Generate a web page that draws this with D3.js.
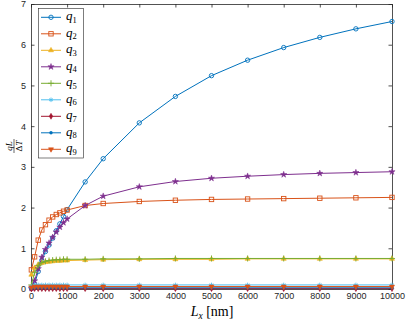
<!DOCTYPE html>
<html>
<head>
<meta charset="utf-8">
<script src="https://cdn.jsdelivr.net/npm/d3@7"></script>
<style>
  body { margin: 0; background: #fff; }
  svg { display: block; }
</style>
</head>
<body>
<svg id="svg" width="406" height="321"></svg>
<script>
// x positions (nm)
var lx = [10, 100, 200, 300, 400, 500, 600, 700, 800, 900, 1000, 1500, 2000,
          3000, 4000, 5000, 6000, 7000, 8000, 9000, 10000];

var q1 = [0.02, 0.12, 0.43, 0.70, 0.92, 1.08, 1.25, 1.43, 1.60, 1.78, 1.95, 2.63, 3.20,
          4.08, 4.73, 5.24, 5.62, 5.93, 6.18, 6.39, 6.57];
var q2 = [0.47, 0.79, 1.20, 1.45, 1.58, 1.69, 1.77, 1.83, 1.87, 1.91, 1.94, 2.05, 2.10,
          2.15, 2.18, 2.20, 2.21, 2.22, 2.23, 2.24, 2.25];
var q3 = [0.35, 0.52, 0.60, 0.64, 0.66, 0.67, 0.68, 0.69, 0.69, 0.70, 0.70, 0.71, 0.72,
          0.73, 0.73, 0.73, 0.74, 0.74, 0.74, 0.74, 0.74];
var q4 = [0.02, 0.20, 0.50, 0.78, 0.97, 1.13, 1.27, 1.40, 1.52, 1.63, 1.72, 2.05, 2.28,
          2.51, 2.64, 2.72, 2.77, 2.81, 2.84, 2.86, 2.88];
var q5 = [0.10, 0.40, 0.58, 0.65, 0.68, 0.70, 0.71, 0.72, 0.72, 0.73, 0.73, 0.73, 0.74,
          0.74, 0.75, 0.75, 0.75, 0.75, 0.75, 0.75, 0.75];
var q6 = [0.06, 0.10, 0.10, 0.10, 0.10, 0.10, 0.10, 0.10, 0.10, 0.10, 0.10, 0.10, 0.10,
          0.10, 0.10, 0.10, 0.10, 0.10, 0.10, 0.10, 0.10];
var q7 = [0.00, 0.01, 0.01, 0.01, 0.01, 0.01, 0.01, 0.01, 0.01, 0.01, 0.01, 0.01, 0.01,
          0.01, 0.01, 0.01, 0.01, 0.01, 0.01, 0.01, 0.01];
var q8 = [0.02, 0.03, 0.03, 0.03, 0.03, 0.03, 0.03, 0.03, 0.03, 0.03, 0.03, 0.03, 0.03,
          0.03, 0.03, 0.03, 0.03, 0.03, 0.03, 0.03, 0.03];
var q9 = [0.04, 0.06, 0.06, 0.06, 0.06, 0.06, 0.06, 0.06, 0.06, 0.06, 0.06, 0.06, 0.06,
          0.06, 0.06, 0.06, 0.06, 0.06, 0.06, 0.06, 0.06];

var xTicks = [0, 1000, 2000, 3000, 4000, 5000, 6000, 7000, 8000, 9000, 10000];
var yTicks = [0, 1, 2, 3, 4, 5, 6, 7];

var series = [
    {n: '1', v: q1, c: '#0072BD', m: 'circle'},
    {n: '2', v: q2, c: '#D95319', m: 'square'},
    {n: '3', v: q3, c: '#EDB120', m: 'tri'},
    {n: '4', v: q4, c: '#7E2F8E', m: 'star'},
    {n: '5', v: q5, c: '#77AC30', m: 'plus'},
    {n: '6', v: q6, c: '#4DBEEE', m: 'asterisk'},
    {n: '7', v: q7, c: '#A2142F', m: 'diamond'},
    {n: '8', v: q8, c: '#0072BD', m: 'dot'},
    {n: '9', v: q9, c: '#D95319', m: 'trid'},
];

var L = 31, T = 4, R = 392, B = 289;
var svg = d3.select('#svg');
var sx = d3.scaleLinear().domain([0, 10000]).range([L, R]);
var sy = d3.scaleLinear().domain([0, 7]).range([B, T]);
var axCol = '#262626';
var tickFont = '"Liberation Sans", Arial, sans-serif';
var serif = '"Liberation Serif", "DejaVu Serif", serif';

// axes (box with inward ticks)
svg.append('g').attr('transform', 'translate(0,' + B + ')')
    .call(d3.axisBottom(sx).tickValues(xTicks).tickFormat(d3.format('d'))
        .tickSizeInner(-3.5).tickSizeOuter(0).tickPadding(4))
    .call(g => g.selectAll('text').attr('font-size', 9).attr('font-family', tickFont).attr('fill', axCol));
svg.append('g').attr('transform', 'translate(0,' + T + ')')
    .call(d3.axisTop(sx).tickValues(xTicks).tickSizeInner(-3.5).tickSizeOuter(0).tickFormat(''));
svg.append('g').attr('transform', 'translate(' + L + ',0)')
    .call(d3.axisLeft(sy).tickValues(yTicks).tickFormat(d3.format('d'))
        .tickSizeInner(-3.5).tickSizeOuter(0).tickPadding(5))
    .call(g => g.selectAll('text').attr('font-size', 9).attr('font-family', tickFont).attr('fill', axCol));
svg.append('g').attr('transform', 'translate(' + R + ',0)')
    .call(d3.axisRight(sy).tickValues(yTicks).tickSizeInner(-3.5).tickSizeOuter(0).tickFormat(''));
svg.selectAll('.domain').attr('stroke', axCol).attr('stroke-width', 0.8);
svg.selectAll('.tick line').attr('stroke', axCol).attr('stroke-width', 0.8);

function marker(sel, type, col) {
    var s = 2.2;
    if (type === 'circle') {
        sel.append('circle').attr('r', s).attr('fill', 'none').attr('stroke', col).attr('stroke-width', 0.9);
    } else if (type === 'square') {
        sel.append('rect').attr('x', -s).attr('y', -s).attr('width', 2 * s).attr('height', 2 * s)
            .attr('fill', 'none').attr('stroke', col).attr('stroke-width', 0.9);
    } else if (type === 'tri' || type === 'trid') {
        sel.append('path').attr('d', d3.symbol().type(d3.symbolTriangle).size(11))
            .attr('transform', type === 'trid' ? 'rotate(180)' : null)
            .attr('fill', col).attr('stroke', col).attr('stroke-width', 0.6);
    } else if (type === 'star') {
        sel.append('path').attr('d', d3.symbol().type(d3.symbolStar).size(12))
            .attr('fill', col).attr('stroke', col).attr('stroke-width', 0.5);
    } else if (type === 'plus') {
        sel.append('path').attr('d', d3.symbol().type(d3.symbolPlus).size(14))
            .attr('fill', 'none').attr('stroke', col).attr('stroke-width', 0.9);
    } else if (type === 'asterisk') {
        sel.append('path').attr('d', d3.symbol().type(d3.symbolAsterisk).size(14))
            .attr('fill', 'none').attr('stroke', col).attr('stroke-width', 0.9);
    } else if (type === 'diamond') {
        sel.append('path').attr('d', d3.symbol().type(d3.symbolDiamond).size(10))
            .attr('fill', col).attr('stroke', col).attr('stroke-width', 0.6);
    } else if (type === 'dot') {
        sel.append('circle').attr('r', 1.7).attr('fill', col);
    }
}

var plot = svg.append('g');
var line = d3.line().x((d, i) => sx(lx[i])).y(d => sy(d));
series.forEach(function (s) {
    var g = plot.append('g');
    g.append('path').attr('d', line(s.v)).attr('fill', 'none')
        .attr('stroke', s.c).attr('stroke-width', 1);
    g.selectAll('g.pt').data(s.v).enter().append('g')
        .attr('transform', (d, i) => 'translate(' + sx(lx[i]) + ',' + sy(d) + ')')
        .each(function () { marker(d3.select(this), s.m, s.c); });
});

// legend
var leg = svg.append('g');
leg.append('rect').attr('x', 38.5).attr('y', 8.5).attr('width', 45).attr('height', 149.5)
    .attr('fill', '#fff').attr('stroke', axCol).attr('stroke-width', 0.6);
series.forEach(function (s, i) {
    var y = 17.3 + i * 16.5;
    leg.append('line').attr('x1', 41).attr('x2', 61).attr('y1', y).attr('y2', y)
        .attr('stroke', s.c).attr('stroke-width', 1);
    marker(leg.append('g').attr('transform', 'translate(51,' + y + ')'), s.m, s.c);
    var t = leg.append('text').attr('x', 66).attr('y', y + 3)
        .attr('font-family', serif).attr('fill', '#000');
    t.append('tspan').attr('font-style', 'italic').attr('font-size', 13).text('q');
    t.append('tspan').attr('font-size', 8.5).attr('dy', 2.5).text(s.n);
});

// x label
var xl = svg.append('text').attr('x', 212).attr('y', 316).attr('text-anchor', 'middle')
    .attr('font-family', serif).attr('font-size', 14).attr('fill', '#000');
xl.append('tspan').attr('font-style', 'italic').text('L');
xl.append('tspan').attr('font-style', 'italic').attr('font-size', 9.5).attr('dy', 3).text('x');
xl.append('tspan').attr('dy', -3).text(' [nm]');

// y label as fraction
var yl = svg.append('g').attr('transform', 'translate(14,146) rotate(-90)');
yl.append('text').attr('x', 0).attr('y', -2).attr('text-anchor', 'middle')
    .attr('font-family', serif).attr('font-style', 'italic').attr('font-size', 9).text('qL');
yl.append('line').attr('x1', -7).attr('x2', 7).attr('y1', 0).attr('y2', 0)
    .attr('stroke', '#000').attr('stroke-width', 0.6);
var den = yl.append('text').attr('x', 0).attr('y', 7.5).attr('text-anchor', 'middle')
    .attr('font-family', serif).attr('font-size', 9);
den.append('tspan').text('Δ');
den.append('tspan').attr('font-style', 'italic').text('T');
</script>
</body>
</html>
